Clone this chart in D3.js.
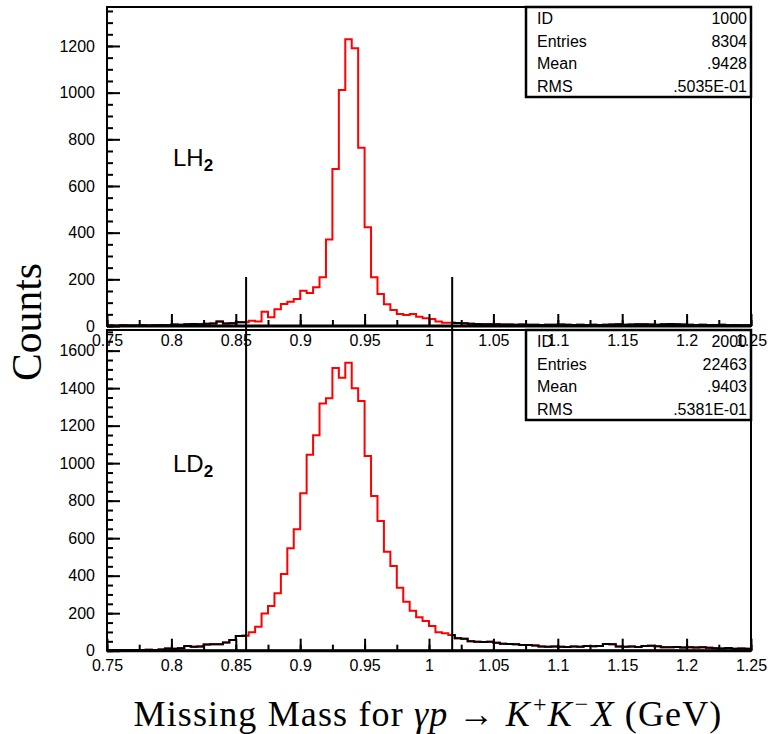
<!DOCTYPE html>
<html>
<head>
<meta charset="utf-8">
<title>Missing mass</title>
<script src="https://cdn.jsdelivr.net/npm/d3@7"></script>
<style>
  body { margin: 0; background: #fff; }
  text { font-family: "Liberation Sans", Arial, sans-serif; }
  .serif { font-family: "Liberation Serif", "DejaVu Serif", serif; }
</style>
</head>
<body>
<script>
// 100 bins, 0.75 - 1.25 GeV
var binLo = 0.75, binHi = 1.25, nBins = 100;
var cutLo = 0.858, cutHi = 1.018;

var countsLH2 = [
  2,1,3,2,2,3,2,3,4,3,
  6,5,7,9,8,10,11,19,11,12,
  16,16,23,19,61,37,72,94,104,116,
  151,141,166,209,371,673,1011,1229,1190,764,
  423,209,137,93,69,51,47,51,40,33,
  30,19,14,14,13,12,10,9,8,7,
  7,6,6,5,6,5,5,4,5,5,
  6,5,4,5,4,5,4,5,6,7,
  5,6,8,7,6,5,8,9,8,6,
  5,4,5,4,4,5,3,4,3,3
];
var countsLD2 = [
  3,2,3,4,3,4,5,4,6,12,
  11,13,25,21,22,33,35,34,44,57,
  78,80,98,128,199,238,306,409,546,647,
  839,1045,1149,1318,1346,1508,1456,1536,1399,1332,
  1038,825,692,528,452,336,261,213,178,158,
  132,98,93,84,66,64,50,48,47,48,
  42,37,36,35,30,31,28,22,21,22,
  21,20,22,21,25,24,25,36,34,22,
  21,23,20,25,26,24,18,19,20,17,
  18,17,19,16,13,12,14,11,12,10
];

var xTicks = [0.75,0.8,0.85,0.9,0.95,1,1.05,1.1,1.15,1.2,1.25];
var yTicksLH2 = [0,200,400,600,800,1000,1200];
var yTicksLD2 = [0,200,400,600,800,1000,1200,1400,1600];

var statLabels = ["ID","Entries","Mean","RMS"];
var statsLH2 = ["1000","8304",".9428",".5035E-01"];
var statsLD2 = ["2000","22463",".9403",".5381E-01"];

var width = 768, height = 734;
var svg = d3.select("body").append("svg")
  .attr("width", width).attr("height", height);

var x = d3.scaleLinear().domain([binLo, binHi]).range([107, 751]);
var binW = (binHi - binLo) / nBins;

function drawPanel(counts, yTicks, yMax, top, bottom, label, id) {
  var y = d3.scaleLinear().domain([0, yMax]).range([bottom, top]);
  var g = svg.append("g");

  // step points of the histogram
  var pts = [];
  counts.forEach(function(c, i) {
    pts.push([binLo + i * binW, c]);
    pts.push([binLo + (i + 1) * binW, c]);
  });
  var line = d3.line()
    .x(function(d) { return x(d[0]); })
    .y(function(d) { return y(d[1]); });

  g.append("path").attr("d", line(pts))
    .attr("fill", "none").attr("stroke", "#ff0000").attr("stroke-width", 2);

  // outside the cut: black on top
  var clip = svg.append("clipPath").attr("id", "out" + id);
  clip.append("rect").attr("x", x(binLo)).attr("y", top)
    .attr("width", x(cutLo) - x(binLo)).attr("height", bottom - top);
  clip.append("rect").attr("x", x(cutHi)).attr("y", top)
    .attr("width", x(binHi) - x(cutHi)).attr("height", bottom - top);
  g.append("path").attr("d", line(pts))
    .attr("clip-path", "url(#out" + id + ")")
    .attr("fill", "none").attr("stroke", "#000").attr("stroke-width", 2);

  // minor / major ticks, pointing in
  var minorX = d3.range(0, 21).map(function(i) { return binLo + i * 0.025; });
  g.append("g").attr("transform", "translate(0," + bottom + ")")
    .call(d3.axisBottom(x).tickValues(minorX).tickSize(-6).tickFormat(""))
    .call(function(a) { a.select(".domain").remove(); });
  g.append("g").attr("transform", "translate(0," + bottom + ")")
    .call(d3.axisBottom(x).tickValues(xTicks).tickSize(-12).tickPadding(9)
      .tickFormat(function(d) { return String(d); }))
    .call(function(a) {
      a.select(".domain").remove();
      a.selectAll("text").attr("font-size", 16).attr("fill", "#000")
        .style("font-family", "Liberation Sans, Arial, sans-serif");
    });

  var minorY = d3.range(0, yMax, 50);
  g.append("g").attr("transform", "translate(107,0)")
    .call(d3.axisLeft(y).tickValues(minorY).tickSize(-6).tickFormat(""))
    .call(function(a) { a.select(".domain").remove(); });
  g.append("g").attr("transform", "translate(107,0)")
    .call(d3.axisLeft(y).tickValues(yTicks).tickSize(-13).tickPadding(12)
      .tickFormat(function(d) { return String(d); }))
    .call(function(a) {
      a.select(".domain").remove();
      a.selectAll("text").attr("font-size", 16).attr("fill", "#000")
        .style("font-family", "Liberation Sans, Arial, sans-serif");
    });
  g.selectAll(".tick line").attr("stroke", "#000").attr("stroke-width", 2);

  // frame
  g.append("rect").attr("x", 107).attr("y", top)
    .attr("width", 751 - 107).attr("height", bottom - top)
    .attr("fill", "none").attr("stroke", "#000").attr("stroke-width", 2);
  g.append("line").attr("x1", 107).attr("x2", 751)
    .attr("y1", bottom).attr("y2", bottom)
    .attr("stroke", "#000").attr("stroke-width", 3);

  // target label
  var t = g.append("text").attr("x", 173).attr("y", label.y)
    .attr("font-size", 24).attr("fill", "#000");
  t.append("tspan").text(label.txt);
  t.append("tspan").attr("dy", 5).attr("font-size", 17)
    .attr("font-weight", "bold").text("2");

  return y;
}

function drawStats(top, stats) {
  var g = svg.append("g");
  g.append("rect").attr("x", 526).attr("y", top)
    .attr("width", 751 - 526).attr("height", 90)
    .attr("fill", "#fff").attr("stroke", "#000").attr("stroke-width", 2.5);
  statLabels.forEach(function(s, i) {
    g.append("text").attr("x", 537).attr("y", top + 17 + i * 22.6)
      .attr("font-size", 16).attr("fill", "#000").text(s);
    g.append("text").attr("x", 747).attr("y", top + 17 + i * 22.6)
      .attr("text-anchor", "end")
      .attr("font-size", 16).attr("fill", "#000").text(stats[i]);
  });
}

// bottom panel first so top panel labels overlap it like the original
drawPanel(countsLD2, yTicksLD2, 1710, 330, 650.7, {txt: "LD", y: 472}, "b");
drawStats(330, statsLD2);
drawPanel(countsLH2, yTicksLH2, 1367, 7, 326, {txt: "LH", y: 166}, "a");
drawStats(7, statsLH2);

// cut lines
[cutLo, cutHi].forEach(function(c) {
  svg.append("line").attr("x1", x(c)).attr("x2", x(c))
    .attr("y1", 277).attr("y2", 650.7)
    .attr("stroke", "#000").attr("stroke-width", 2);
});

// axis titles
var yt = svg.append("text").attr("class", "serif")
  .attr("transform", "translate(41,322) rotate(-90)")
  .attr("text-anchor", "middle").attr("font-size", 40).attr("fill", "#000")
  .text("Counts");

var xt = svg.append("text").attr("class", "serif")
  .attr("x", 428).attr("y", 726).attr("text-anchor", "middle")
  .attr("font-size", 36).attr("fill", "#000");
xt.append("tspan").text("Missing Mass for ");
xt.append("tspan").attr("font-style", "italic").text("γp");
xt.append("tspan").text(" → ");
xt.append("tspan").attr("font-style", "italic").text("K");
xt.append("tspan").attr("dy", -14).attr("dx", 2).attr("font-size", 24).text("+");
xt.append("tspan").attr("dy", 14).attr("font-style", "italic").text("K");
xt.append("tspan").attr("dy", -14).attr("dx", 2).attr("font-size", 24).text("−");
xt.append("tspan").attr("dy", 14).attr("dx", 2).attr("font-style", "italic").text("X");
xt.append("tspan").text(" (GeV)");

// widen the title to the original's span with letter spacing
var w = xt.node().getBBox().width;
var n = xt.text().length;
if (w < 589) xt.attr("letter-spacing", (589 - w) / n);

// "Counts" scaled to its span
var wy = yt.node().getBBox().width;
yt.attr("font-size", 40 * 118 / wy);
</script>
</body>
</html>
